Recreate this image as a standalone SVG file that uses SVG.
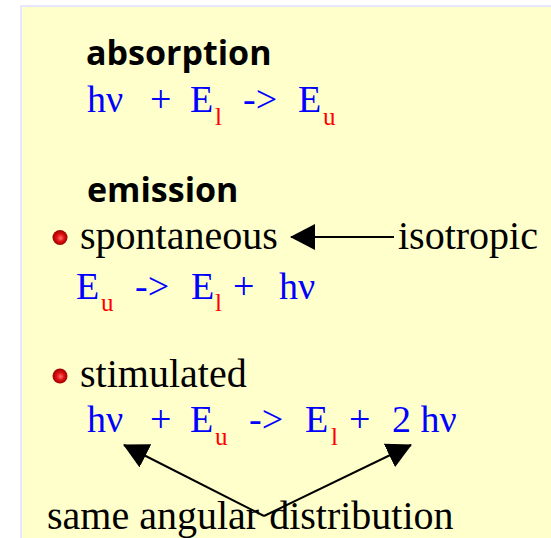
<svg xmlns="http://www.w3.org/2000/svg" width="551" height="538" viewBox="0 0 551 538">
<style>
.h{font-family:"Open Sans","DejaVu Sans",sans-serif;font-weight:bold;font-size:34px;fill:#000}
.t{font-family:"Liberation Serif","Times New Roman",serif;font-size:40px;fill:#000}
.f{font-family:"Liberation Serif","Times New Roman",serif;font-size:38px;fill:#0000ff}
.s{font-family:"Liberation Serif","Times New Roman",serif;font-size:25px;fill:#ff0000}
.ln{stroke:#000;stroke-width:2;fill:none}
</style>
<defs>
<radialGradient id="ball" cx="0.5" cy="0.5" r="0.5" fx="0.55" fy="0.55">
<stop offset="0" stop-color="#ff7070"/>
<stop offset="0.5" stop-color="#e01010"/>
<stop offset="1" stop-color="#9a0000"/>
</radialGradient>
<marker id="ah" markerUnits="userSpaceOnUse" viewBox="0 0 25 26" refX="24" refY="13" markerWidth="25" markerHeight="26" orient="auto">
<path d="M25,13 L0,0 L0,26 Z" fill="#000"/>
</marker>
</defs>
<rect x="0" y="0" width="551" height="538" fill="#fff"/>
<rect x="21" y="6" width="545" height="545" fill="#ffffcc" stroke="#e6e6ff" stroke-width="2"/>

<g id="absorption">
<text class="h" x="86" y="65">absorption</text>
<text class="f" x="87" y="112">hν</text>
<text class="f" x="150" y="112">+</text>
<text class="f" x="190" y="112">E</text>
<text class="s" x="215" y="125">l</text>
<text class="f" x="243" y="112">-&gt;</text>
<text class="f" x="298" y="112">E</text>
<text class="s" x="323" y="125">u</text>
</g>

<g id="emission">
<text class="h" x="87" y="202">emission</text>
</g>

<g id="spontaneous">
<circle cx="60" cy="237.5" r="7.5" fill="url(#ball)"/>
<text class="t" x="80" y="249">spontaneous</text>
<text class="f" x="76" y="299">E</text>
<text class="s" x="101" y="311">u</text>
<text class="f" x="135" y="299">-&gt;</text>
<text class="f" x="191" y="299">E</text>
<text class="s" x="215" y="311">l</text>
<text class="f" x="233" y="299">+</text>
<text class="f" x="279" y="299">hν</text>
</g>

<g id="isotropic">
<text class="t" x="398" y="249">isotropic</text>
</g>

<g id="stimulated">
<circle cx="60" cy="376" r="7.5" fill="url(#ball)"/>
<text class="t" x="80" y="387">stimulated</text>
<text class="f" x="87" y="432">hν</text>
<text class="f" x="150" y="432">+</text>
<text class="f" x="190" y="432">E</text>
<text class="s" x="215" y="445">u</text>
<text class="f" x="249" y="432">-&gt;</text>
<text class="f" x="305" y="432">E</text>
<text class="s" x="331" y="445">l</text>
<text class="f" x="349" y="432">+</text>
<text class="f" x="392" y="432">2 hν</text>
</g>

<g id="same-angular">
<text class="t" x="47" y="529">same angular distribution</text>
</g>

<g id="connectors">
<line class="ln" x1="394" y1="237" x2="291" y2="237" marker-end="url(#ah)"/>
<line class="ln" x1="264" y1="516" x2="124" y2="445" marker-end="url(#ah)"/>
<line class="ln" x1="264" y1="516" x2="411" y2="445" marker-end="url(#ah)"/>
</g>
</svg>
